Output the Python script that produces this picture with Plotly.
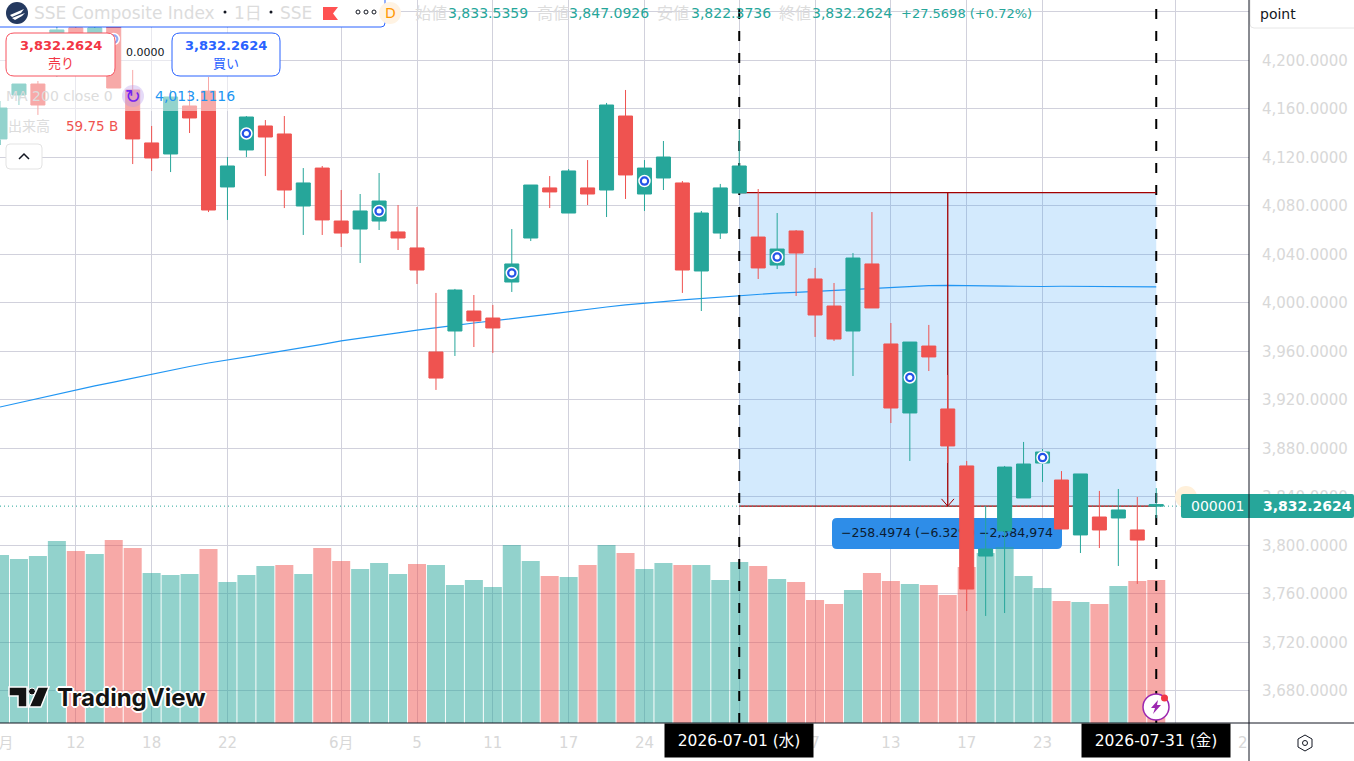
import plotly.graph_objects as go

# bars of the daily chart, oldest first
dates = ["2026-05-06", "2026-05-07", "2026-05-08", "2026-05-11", "2026-05-12", "2026-05-13", "2026-05-14", "2026-05-15",
         "2026-05-18", "2026-05-19", "2026-05-20", "2026-05-21", "2026-05-22", "2026-05-25", "2026-05-26", "2026-05-27",
         "2026-05-28", "2026-05-29", "2026-06-01", "2026-06-02", "2026-06-03", "2026-06-04", "2026-06-05", "2026-06-08",
         "2026-06-09", "2026-06-10", "2026-06-11", "2026-06-12", "2026-06-15", "2026-06-16", "2026-06-17", "2026-06-18",
         "2026-06-22", "2026-06-23", "2026-06-24", "2026-06-25", "2026-06-26", "2026-06-29", "2026-06-30", "2026-07-01",
         "2026-07-02", "2026-07-03", "2026-07-06", "2026-07-07", "2026-07-08", "2026-07-09", "2026-07-10", "2026-07-13",
         "2026-07-14", "2026-07-15", "2026-07-16", "2026-07-17", "2026-07-20", "2026-07-21", "2026-07-22", "2026-07-23",
         "2026-07-24", "2026-07-27", "2026-07-28", "2026-07-29", "2026-07-30", "2026-07-31"]
opens = [4135.1, 4171.4, 4180.4, 4200.2, 4226.6, 4200.2, 4257.9, 4175.5, 4131.8, 4122.7, 4162.3, 4174.6, 4095.5, 4126.0,
         4145.8, 4139.2, 4079.8, 4111.1, 4067.4, 4060.8, 4067.4, 4058.4, 4045.2, 3959.4, 3976.7, 3993.2, 3987.4, 4017.1,
         4053.4, 4094.7, 4074.0, 4094.7, 4093.0, 4154.0, 4089.7, 4102.9, 4098.8, 4026.2, 4057.5, 4090.5, 4054.2, 4031.1,
         4059.2, 4019.6, 3997.3, 3976.7, 4032.0, 3966.0, 3909.1, 3964.3, 3912.4, 3865.4, 3791.1, 3811.8, 3839.0, 3867.8,
         3853.8, 3808.5, 3823.3, 3822.5, 3812.6, 3833.5359]
highs = [4166.4, 4180.4, 4182.9, 4228.3, 4228.3, 4233.2, 4262.0, 4192.0, 4145.8, 4175.5, 4175.5, 4186.2, 4120.2, 4154.0,
         4150.7, 4154.0, 4111.1, 4112.8, 4093.0, 4089.7, 4107.0, 4080.6, 4079.0, 4008.1, 4011.4, 4006.4, 3998.2, 4060.8,
         4097.1, 4104.5, 4110.3, 4117.7, 4164.8, 4175.5, 4117.7, 4133.4, 4100.4, 4075.7, 4098.0, 4142.5, 4093.8, 4074.0,
         4060.0, 4028.7, 4016.3, 4041.0, 4074.8, 3983.3, 3967.6, 3981.7, 3940.4, 3869.5, 3832.4, 3865.4, 3885.2, 3879.4,
         3861.2, 3858.8, 3844.8, 3846.4, 3839.8, 3847.0926]
lows = [4130.1, 4163.1, 4154.9, 4186.2, 4196.1, 4192.0, 4177.1, 4114.4, 4108.7, 4107.8, 4140.0, 4074.8, 4068.3, 4120.2,
        4104.5, 4078.1, 4055.9, 4055.9, 4046.0, 4032.8, 4060.0, 4043.5, 4015.5, 3928.1, 3956.1, 3963.5, 3958.6, 4008.9,
        4050.9, 4078.1, 4074.0, 4080.6, 4070.7, 4085.6, 4075.7, 4093.0, 4008.1, 3993.2, 4052.6, 4090.5, 4019.6, 4027.8,
        4005.6, 3971.8, 3968.5, 3939.6, 3995.7, 3900.8, 3869.5, 3943.7, 3867.8, 3745.8, 3741.7, 3744.1, 3839.0, 3852.2,
        3813.4, 3793.6, 3797.7, 3782.9, 3768.1, 3822.3736]
closes = [4160.6, 4180.4, 4163.1, 4225.0, 4204.3, 4226.6, 4177.1, 4135.1, 4119.4, 4169.7, 4152.4, 4076.5, 4112.8, 4153.2,
          4136.7, 4093.0, 4098.8, 4068.3, 4057.5, 4075.7, 4083.9, 4053.4, 4027.0, 3937.9, 4010.5, 3985.0, 3979.2, 4032.0,
          4097.1, 4091.4, 4108.7, 4089.7, 4163.1, 4105.4, 4111.1, 4120.2, 4027.0, 4074.0, 4094.7, 4112.8, 4028.7, 4044.3,
          4041.0, 3989.9, 3970.1, 4036.9, 3995.7, 3913.2, 3967.6, 3955.3, 3881.9, 3763.9, 3796.9, 3864.5, 3867.0, 3876.9,
          3813.4, 3858.8, 3812.6, 3829.1, 3804.3, 3832.2624]
candle_dir = list("TTRTRTRRRTRRTTRRTRRTTRRRTRRTTRTRTRTTRTTTRTRRRTRRTRRRTTTTRTRTRT")
volumes = [70.2, 68.5, 69.8, 76.0, 71.9, 70.6, 76.5, 73.1, 62.7, 61.8, 62.3, 72.7, 58.9, 61.8, 65.6, 66.0, 62.3, 73.1,
           67.7, 64.3, 66.8, 62.3, 66.4, 66.0, 57.7, 59.7, 56.8, 74.4, 67.7, 61.4, 61.0, 66.0, 74.4, 71.0, 64.3, 66.8,
           66.0, 66.0, 59.7, 67.3, 65.6, 60.2, 58.9, 51.4, 49.7, 55.6, 62.7, 59.3, 58.1, 57.7, 53.5, 65.2, 71.0, 73.5,
           61.4, 56.4, 51.0, 50.6, 49.7, 57.2, 59.3, 59.75]
volume_dir = list("TTTTRTRRTTTRTTTRTRRTTTRTTTTTTRTRTRTTRTTTRTRRRTRRTRRRTTTTRTRTRR")
ma200 = [3914.0, 3917.6, 3921.0, 3924.7, 3928.1, 3931.4, 3934.6, 3937.9, 3941.2, 3944.5, 3947.4, 3950.3, 3952.8, 3955.7,
         3958.2, 3960.6, 3963.1, 3965.6, 3968.5, 3970.5, 3972.6, 3975.1, 3977.5, 3979.2, 3981.3, 3983.3, 3985.0, 3986.6,
         3988.7, 3990.7, 3992.8, 3994.9, 3996.5, 3998.2, 3999.8, 4001.0, 4002.3, 4003.5, 4004.7, 4006.0, 4007.2, 4008.0,
         4008.5, 4009.3, 4010.1, 4010.9, 4012.2, 4013.0, 4013.8, 4014.2, 4014.4, 4014.4, 4014.0, 4013.7, 4013.4, 4013.4,
         4013.6, 4013.6, 4013.5, 4013.4, 4013.3, 4013.1116]
marker_bars = [6, 13, 20, 27, 34, 41, 48, 55]

tick_bars = [0, 4, 8, 12, 18, 22, 26, 30, 34, 39, 43, 47, 51, 55, 62]
tick_labels = ["", "12", "18", "22", "6月", "5", "11", "17", "24", "7月", "7", "13", "17", "23", "8月"]
price_ticks = [3680, 3720, 3760, 3800, 3840, 3880, 3920, 3960, 4000, 4040, 4080, 4120, 4160, 4200, 4240]

range_start = "2026-07-01"
range_end = "2026-07-31"
range_top = 4090.7596
range_bottom = 3832.2624
last_price = 3832.2624

TEAL = "#26a69a"
RED = "#ef5350"
GRID = "#d1d1dc"
FADED = "#d8d8d8"
DARKRED = "#a30000"
FONT = "DejaVu Sans, Noto Sans CJK JP"

W, H = 1354, 761
PW, PH = 1249, 723
price_range = [3653.4, 4249.7]
volume_range = [0, 302.07]
bar_step = 18.955

bars = list(range(len(dates)))
x_range = [0, PW / bar_step]
i0 = dates.index(range_start)
i1 = dates.index(range_end)
mid = (i0 + i1) // 2


def fx(px):
    return px / PW


def fy(py):
    return 1 - py / PH


def data_x(px):
    return px / bar_step


def data_y(py):
    return price_range[1] - py * (price_range[1] - price_range[0]) / PH


# main subplot is the only one with a layer between grid and traces, so these shapes use its scale
def vol_y(py):
    return (PH - py) / PH * volume_range[1]


def price_to_vol(p):
    return (p - price_range[0]) / (price_range[1] - price_range[0]) * volume_range[1]


def rrect(x0, y0, x1, y1, r, mx=fx, my=fy):
    pts = [(x0 + r, y0), (x1 - r, y0), (x1, y0, x1, y0 + r), (x1, y1 - r), (x1, y1, x1 - r, y1),
           (x0 + r, y1), (x0, y1, x0, y1 - r), (x0, y0 + r), (x0, y0, x0 + r, y0)]
    path = f"M{mx(pts[0][0])},{my(pts[0][1])}"
    for p in pts[1:]:
        if len(p) == 2:
            path += f" L{mx(p[0])},{my(p[1])}"
        else:
            path += f" Q{mx(p[0])},{my(p[1])} {mx(p[2])},{my(p[3])}"
    return path + " Z"


def poly(points):
    return "M" + " L".join(f"{fx(a)},{fy(b)}" for a, b in points) + " Z"


def chrome(path, fill="rgba(0,0,0,0)", line="rgba(0,0,0,0)", width=1):
    return dict(type="path", path=path, xref="paper", yref="paper", layer="above", fillcolor=fill,
                line=dict(color=line, width=width))


def circle(cx, cy, r, fill, line="rgba(0,0,0,0)", width=1):
    return dict(type="circle", xref="paper", yref="paper", layer="above", x0=fx(cx - r), x1=fx(cx + r),
                y0=fy(cy + r), y1=fy(cy - r), fillcolor=fill, line=dict(color=line, width=width))


def label(text, x, y, color, size=14, anchor="left", **kw):
    return dict(text=text, x=fx(x), y=fy(y), xref="paper", yref="paper", xanchor=anchor, yanchor="middle",
                showarrow=False, font=dict(family=kw.pop("family", FONT), size=size, color=color), borderpad=0, **kw)


def date_box(text, px):
    return dict(text=text, x=fx(px), y=fy(740.5), xref="paper", yref="paper", xanchor="center", yanchor="middle",
                showarrow=False, width=146, height=31, bgcolor="#000000", font=dict(family=FONT, size=15.5, color="#ffffff"))


fig = go.Figure()

# volume sits in the main subplot so it stays under everything else
fig.add_trace(go.Bar(x=bars, y=volumes, yaxis="y",
                     marker=dict(color=["rgba(38,166,154,0.5)" if d == "T" else "rgba(239,83,80,0.5)" for d in volume_dir],
                                 line=dict(width=0))))

# ma, measure tool and its label text under the candles
fig.add_trace(go.Scatter(x=bars, y=ma200, yaxis="y2", mode="lines", line=dict(color="#2196f3", width=1.2)))
for b in [i0, i1]:
    fig.add_trace(go.Scatter(x=[b, b], y=price_range, yaxis="y2", mode="lines",
                             line=dict(color="#000000", width=2, dash="10px,12px")))
fig.add_trace(go.Scatter(x=[i0, i1], y=[range_top, range_top], yaxis="y2", mode="lines", line=dict(color=DARKRED, width=1.3)))
fig.add_trace(go.Scatter(x=[i0, i1], y=[range_bottom, range_bottom], yaxis="y2", mode="lines", line=dict(color=DARKRED, width=1.3)))
fig.add_trace(go.Scatter(x=[mid, mid], y=[range_top, range_bottom], yaxis="y2", mode="lines", line=dict(color=DARKRED, width=1.3)))
fig.add_trace(go.Scatter(x=[mid - 0.33, mid, mid + 0.33], y=[range_bottom + 6, range_bottom, range_bottom + 6], yaxis="y2",
                         mode="lines", line=dict(color=DARKRED, width=1)))
fig.add_trace(go.Scatter(x=[bars[0], data_x(1181)], y=[last_price, last_price], yaxis="y2", mode="lines",
                         line=dict(color=TEAL, width=1, dash="1px,3px")))
fig.add_trace(go.Scatter(x=[data_x(947)], y=[data_y(533.5)], yaxis="y2", mode="text", text=["−258.4974 (−6.32%) −2,384,974"],
                         textposition="middle center", textfont=dict(family=FONT, size=12.5, color="#0c1c30")))

# candles, split because the colour does not follow open/close on every bar
for code, color in [("T", TEAL), ("R", RED)]:
    idx = [i for i in bars if candle_dir[i] == code]
    fig.add_trace(go.Candlestick(x=idx, open=[opens[i] for i in idx], high=[highs[i] for i in idx],
                                 low=[lows[i] for i in idx], close=[closes[i] for i in idx], yaxis="y3",
                                 increasing=dict(line=dict(color=color, width=1), fillcolor=color),
                                 decreasing=dict(line=dict(color=color, width=1), fillcolor=color)))

mark_y = [(opens[i] + closes[i]) / 2 for i in marker_bars]
fig.add_trace(go.Scatter(x=marker_bars, y=mark_y, yaxis="y3", mode="markers",
                         marker=dict(size=11, color="#2453e8", line=dict(color="#ffffff", width=1.5))))
fig.add_trace(go.Scatter(x=marker_bars, y=mark_y, yaxis="y3", mode="markers", marker=dict(size=5, color="#ffffff")))

shapes = [
    dict(type="rect", xref="x", yref="y", x0=i0, x1=i1, y0=price_to_vol(range_bottom), y1=price_to_vol(range_top), layer="between",
         fillcolor="rgba(33,150,243,0.2)", line=dict(width=0)),
    dict(type="path", xref="x", yref="y", layer="between", fillcolor="#2e8de8", line=dict(width=0),
         path=rrect(832, 518, 1062, 549, 5, data_x, vol_y)),
    # legend backdrop fades the candles under it
    dict(type="rect", xref="paper", yref="paper", layer="above", x0=0, x1=fx(280), y0=fy(85), y1=fy(28),
         fillcolor="rgba(255,255,255,0.5)", line=dict(width=0)),
    dict(type="rect", xref="paper", yref="paper", layer="above", x0=0, x1=fx(240), y0=fy(111), y1=fy(85),
         fillcolor="rgba(255,255,255,0.5)", line=dict(width=0)),
    dict(type="rect", xref="paper", yref="paper", layer="above", x0=0, x1=fx(120), y0=fy(140), y1=fy(111),
         fillcolor="rgba(255,255,255,0.5)", line=dict(width=0)),
    # header
    chrome(rrect(-6, -6, 385, 27, 4), "#ffffff", "#2962ff", 1),
    circle(17, 13, 11, "#24395f"),
    chrome(poly([(10, 15), (24, 9), (21, 13), (12, 17)]), "#ffffff"),
    chrome(poly([(12, 18), (25, 13), (22, 16), (15, 20)]), "#ffffff"),
    circle(225, 12, 1.5, "#131722"), circle(271, 12, 1.5, "#131722"),
    chrome(poly([(323, 7), (338, 7), (333, 13.5), (338, 20), (323, 20)]), "#ff5252"),
    circle(358, 12, 2, "#ffffff", "#131722", 1), circle(366, 12, 2, "#ffffff", "#131722", 1),
    circle(374, 12, 2, "#ffffff", "#131722", 1),
    circle(390, 13, 11, "#fff3e3"),
    # buy and sell
    chrome(rrect(6, 33, 115, 76, 8), "#ffffff", "#f7525f", 1),
    chrome(rrect(172, 33, 280, 76, 8), "#ffffff", "#2962ff", 1),
    circle(133, 96, 11, "rgba(180,150,235,0.35)"),
    chrome(rrect(6, 144, 42, 169, 4), "#ffffff", "#e3e3e3", 1),
    chrome(f"M{fx(19)},{fy(159)} L{fx(24)},{fy(154)} L{fx(29)},{fy(159)}", line="#131722", width=1.5),
    # tradingview logo
    chrome(poly([(9, 687), (27, 687), (27, 707), (18, 707), (18, 696), (9, 696)]), "#131313", "#ffffff", 1.5),
    circle(32, 691.5, 3.5, "#131313", "#ffffff", 1),
    chrome(poly([(38, 687), (49, 687), (41, 707), (29, 707)]), "#131313", "#ffffff", 1.5),
    # lightning button
    circle(1156, 707, 13, "#ffffff", "#9c27b0", 1.5),
    chrome(poly([(1158, 700), (1151, 708), (1155, 708), (1153, 714), (1161, 705), (1157, 705)]), "#9c27b0"),
    circle(1164.5, 698, 3.5, "#f23645"),
    # price axis pieces
    circle(1186, 497, 11, "#fff0da"),
    chrome(rrect(1181, 494, 1354, 518, 2), TEAL),
    chrome(rrect(1250, -6, 1360, 28, 4), "#ffffff", "#e6e6e6", 1),
    chrome(f"M{fx(PW)},{fy(0)} L{fx(PW)},{fy(H)}", line="#131722", width=1),
    chrome(f"M{fx(0)},{fy(PH)} L{fx(W)},{fy(PH)}", line="#131722", width=1),
    chrome(poly([(1305, 735), (1312, 739), (1312, 747), (1305, 751), (1298, 747), (1298, 739)]), "#ffffff", "#131722", 1),
    circle(1305, 743, 2.5, "#ffffff", "#131722", 1),
]

halo = "1px 1px 0 #fff, -1px -1px 0 #fff, 1px -1px 0 #fff, -1px 1px 0 #fff, 2px 0 0 #fff, -2px 0 0 #fff, 0 2px 0 #fff, 0 -2px 0 #fff"
annotations = [
    label("SSE Composite Index", 33, 13, "#dcdcdc", 17),
    label("1日", 233, 13, "#dcdcdc", 17),
    label("SSE", 279, 13, "#dcdcdc", 17),
    label("D", 390, 13, "#ff9800", 14, "center"),
    label("始値", 414, 13, "#dcdcdc", 16),
    label("3,833.5359", 447, 13, TEAL, 14),
    label("高値", 536, 13, "#dcdcdc", 16),
    label("3,847.0926", 568, 13, TEAL, 14),
    label("安値", 656, 13, "#dcdcdc", 16),
    label("3,822.3736", 690, 13, TEAL, 14),
    label("終値", 778, 13, "#dcdcdc", 16),
    label("3,832.2624", 811, 13, TEAL, 14),
    label("+27.5698 (+0.72%)", 900, 13, TEAL, 13),
    label("<b>3,832.2624</b>", 60.5, 45, "#f23645", 13, "center"),
    label("売り", 60.5, 63, "#f23645", 13, "center"),
    label("<b>3,832.2624</b>", 226, 45, "#2962ff", 13, "center"),
    label("買い", 226, 63, "#2962ff", 13, "center"),
    label("0.0000", 125, 53, "#131722", 11),
    label("MA 200 close 0", 5, 96, "#dcdcdc", 14),
    label("↻", 133, 96, "#7424f0", 19, "center"),
    label("4,013.1116", 154, 96, "#2196f3", 14),
    label("出来高", 7, 126, "#dcdcdc", 14),
    label("59.75 B", 65, 126, "#ef5350", 13.5),
    dict(label("<b>TradingView</b>", 56, 697, "#131313", 24, family="Inter")),
    label("000001", 1190, 506, "#ffffff", 14),
    label("<b>3,832.2624</b>", 1262, 506, "#ffffff", 14),
    label("point", 1259, 14, "#131722", 14),
    label("5月", 1, 743, FADED, 15, "center"),
    label("2", 1249, 743, FADED, 15, "right"),
    date_box(f"{range_start} (水)", 739),
    date_box(f"{range_end} (金)", 1155.5),
]
for a in annotations:
    if "TradingView" in a["text"]:
        a["font"]["shadow"] = halo

fig.update_layout(
    width=W, height=H, margin=dict(l=0, r=W - PW, t=0, b=H - PH), paper_bgcolor="#ffffff", plot_bgcolor="#ffffff",
    showlegend=False, barmode="overlay", bargap=0.05, boxgap=0.26, boxgroupgap=0, hovermode=False,
    shapes=shapes, annotations=annotations,
    xaxis=dict(range=x_range, tickmode="array", tickvals=tick_bars, ticktext=tick_labels, showgrid=True, gridcolor=GRID, gridwidth=1,
               zeroline=False, showline=False, ticks="", tickangle=0, ticklabelstandoff=9, rangeslider=dict(visible=False),
               tickfont=dict(family=FONT, size=15, color=FADED)),
    yaxis=dict(range=volume_range, visible=False, showgrid=False, fixedrange=True),
    yaxis2=dict(range=price_range, overlaying="y", visible=False, showgrid=False, fixedrange=True),
    yaxis3=dict(range=price_range, overlaying="y", side="right", tickmode="array", tickvals=price_ticks, tickformat=",.4f",
                showgrid=True, gridcolor=GRID, gridwidth=1, zeroline=False, showline=False, ticks="", ticklabelstandoff=12,
                tickfont=dict(family=FONT, size=15, color=FADED)),
)

fig.write_html("out.html", config=dict(displayModeBar=False),
               post_script="document.body.style.margin='0';")
